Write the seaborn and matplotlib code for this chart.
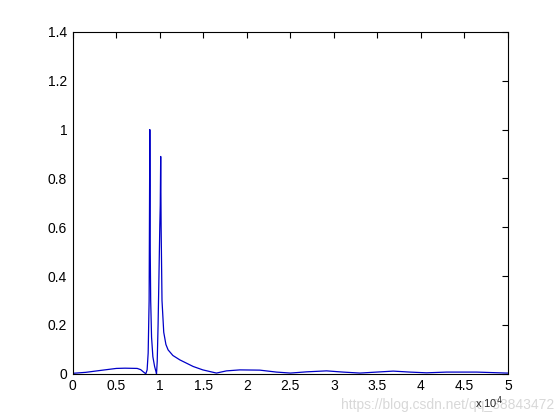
import matplotlib
matplotlib.use("Agg")
import matplotlib.pyplot as plt
import seaborn as sns
import pandas as pd

# Frequency (Hz) and normalized magnitude
freq = [0, 1500, 3000, 5000, 6000, 7400, 7800, 8100, 8390, 8540, 8660, 8770, 8800,
        8850, 8880, 8900, 8950, 9050, 9200, 9400, 9550, 9620, 9700, 9800, 9900,
        10000, 10050, 10100, 10150, 10250, 10450, 10700, 10950, 11500, 12300,
        13830, 14940, 15900, 16510, 17660, 19200, 21490, 23410, 25000, 26860,
        29160, 31070, 32990, 34900, 36820, 38740, 40650, 42950, 46400, 49850, 50000]
mag = [0.002, 0.006, 0.013, 0.022, 0.023, 0.022, 0.017, 0.008, 0.0, 0.016, 0.085,
       0.30, 0.55, 1.0, 0.77, 0.50, 0.30, 0.15, 0.07, 0.03, 0.01, 0.0, 0.05, 0.20,
       0.40, 0.61, 0.69, 0.89, 0.60, 0.30, 0.17, 0.12, 0.098, 0.075, 0.057,
       0.030, 0.016, 0.008, 0.003, 0.012, 0.016, 0.015, 0.007, 0.003, 0.008,
       0.012, 0.007, 0.003, 0.007, 0.011, 0.007, 0.004, 0.007, 0.007, 0.003, 0.003]

xticks = [0, 5000, 10000, 15000, 20000, 25000, 30000, 35000, 40000, 45000, 50000]
xlabels = ['0', '0.5', '1', '1.5', '2', '2.5', '3', '3.5', '4', '4.5', '5']
yticks = [0, 0.2, 0.4, 0.6, 0.8, 1.0, 1.2, 1.4]
ylabels = ['0', '0.2', '0.4', '0.6', '0.8', '1', '1.2', '1.4']

sns.set_style("white")
plt.rcParams['font.family'] = ['Liberation Sans', 'DejaVu Sans']

df = pd.DataFrame({"f": freq, "m": mag})
fig = plt.figure(figsize=(5.6, 4.2), dpi=100)
fig.patch.set_facecolor('white')
ax = fig.add_axes([0.13, 0.11, 0.777, 0.814])
sns.lineplot(data=df, x="f", y="m", ax=ax, color="#0000c8", linewidth=0.9,
             estimator=None, sort=False)
ax.set_xlim(0, 50000)
ax.set_ylim(0, 1.4)
ax.set_xticks(xticks)
ax.set_xticklabels(xlabels)
ax.set_yticks(yticks)
ax.set_yticklabels(ylabels)
ax.set_xlabel("")
ax.set_ylabel("")
ax.tick_params(direction='in', length=4, width=0.8, top=True, right=True,
               labelsize=10, colors='black', pad=4)
for s in ax.spines.values():
    s.set_visible(True)
    s.set_color('black')
    s.set_linewidth(0.8)
fig.text(0.99, 0.02, "https://blog.csdn.net/qq_38843472", fontsize=10,
         color='#d8d8d8', ha='right', va='bottom', zorder=1)
fig.text(0.848, 0.022, r"x 10$^{4}$", fontsize=8, ha='left', va='bottom', zorder=2)
fig.savefig("out.png", dpi=100, facecolor='white')
